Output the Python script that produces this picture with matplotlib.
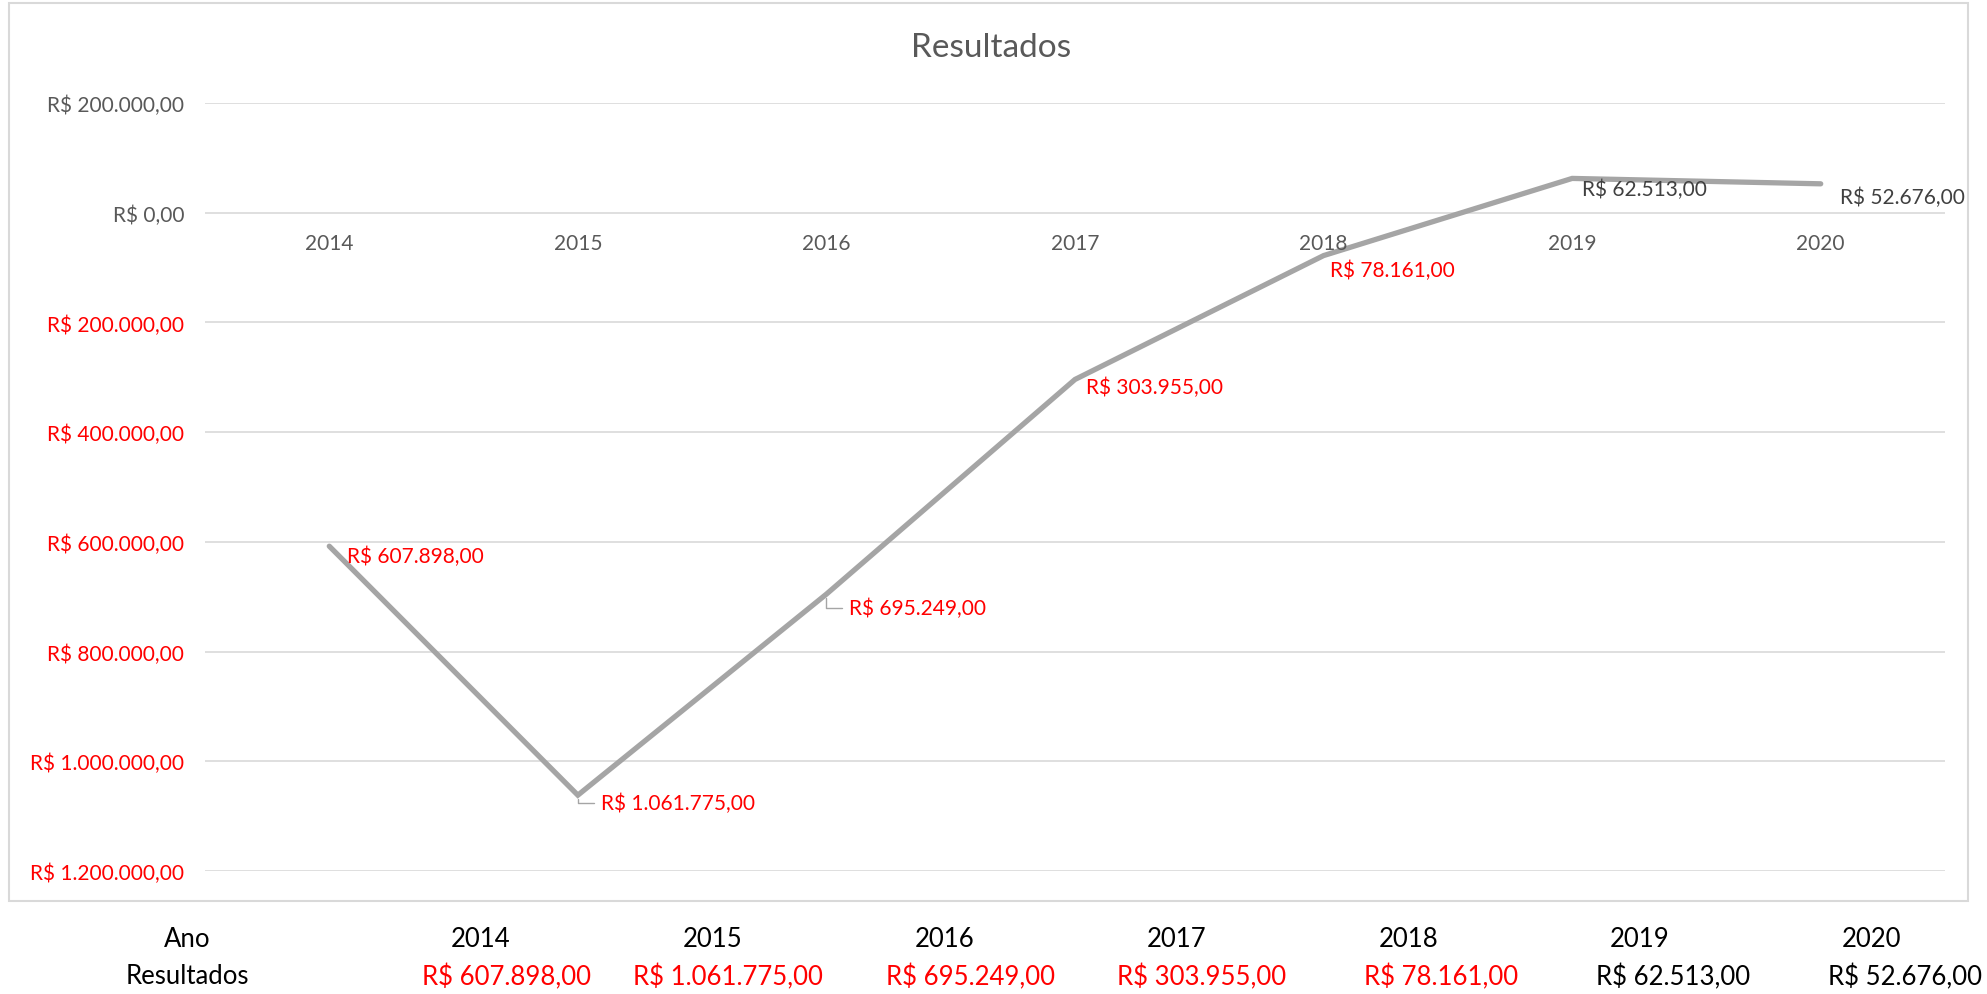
import matplotlib
matplotlib.use("Agg")
import matplotlib.pyplot as plt
from matplotlib.patches import Rectangle

plt.rcParams["font.family"] = ["Lato", "DejaVu Sans"]

# data (negative = loss, shown in red)
anos = ["2014", "2015", "2016", "2017", "2018", "2019", "2020"]
resultados = [-607898, -1061775, -695249, -303955, -78161, 62513, 52676]
y_ticks = [200000, 0, -200000, -400000, -600000, -800000, -1000000, -1200000]

# label offsets in points (dx, dy) relative to each point
label_off = [(12.8, -7.3), (16.4, -5.5), (16.4, -10.0), (8.2, -5.5),
             (4.6, -10.0), (7.3, -7.3), (13.7, -9.1)]
leader = [False, True, True, False, False, False, False]

RED = "#FF0000"
GRAY_TXT = "#595959"
LINE = "#A5A5A5"
GRID = "#D9D9D9"


def brl(v):
    s = f"{abs(v):,.2f}".replace(",", "X").replace(".", ",").replace("X", ".")
    return "R$ " + s


W, H = 1987, 995
fig = plt.figure(figsize=(W / 100, H / 100), dpi=100)

# chart border
fig.patches.append(Rectangle((9 / W, 1 - 902 / H), (1968 - 9) / W, (902 - 4) / H,
                             transform=fig.transFigure, fill=False,
                             edgecolor=GRID, lw=1.5))

ax = fig.add_axes([205 / W, 1 - 872 / H, (1945 - 205) / W, (872 - 104) / H])
x = list(range(len(anos)))
ax.plot(x, resultados, color=LINE, lw=3.8, solid_capstyle="round",
        solid_joinstyle="miter", zorder=3)
ax.set_xlim(-0.5, len(anos) - 0.5)
ax.set_ylim(-1200000, 200000)
ax.set_yticks(y_ticks)
ax.set_yticklabels([brl(v) for v in y_ticks], fontsize=15)
for lab, v in zip(ax.get_yticklabels(), y_ticks):
    lab.set_color(RED if v < 0 else GRAY_TXT)
ax.tick_params(axis="y", length=0, pad=15)
ax.set_xticks([])
ax.grid(axis="y", color=GRID, lw=1.2)
ax.set_axisbelow(True)
for sp in ax.spines.values():
    sp.set_visible(False)

# category labels just below the zero line
for i, a in enumerate(anos):
    ax.annotate(a, (i, 0), xytext=(0, -21.5), textcoords="offset points",
                ha="center", va="center", fontsize=15, color=GRAY_TXT)

# data labels
for i, v in enumerate(resultados):
    dx, dy = label_off[i]
    kw = {}
    if leader[i]:
        kw["arrowprops"] = dict(arrowstyle="-", color=LINE, lw=1.0,
                                connectionstyle="angle,angleA=180,angleB=90,rad=0",
                                shrinkA=3, shrinkB=3, relpos=(0, 0.5))
    ax.annotate(brl(v), (i, v), xytext=(dx, dy), textcoords="offset points",
                ha="left", va="center", fontsize=15,
                color=RED if v < 0 else "#404040", zorder=4, **kw)

fig.text(991 / W, 1 - 48 / H, "Resultados", ha="center", va="center",
         fontsize=24, color=GRAY_TXT)

# data table under the chart
fig.text(187 / W, 1 - 940 / H, "Ano", ha="center", va="center", fontsize=18.5, color="black")
fig.text(187 / W, 1 - 977 / H, "Resultados", ha="center", va="center", fontsize=18.5, color="black")
for i, (a, v) in enumerate(zip(anos, resultados)):
    cx = 481 + 231.8 * i
    fig.text(cx / W, 1 - 940 / H, a, ha="center", va="center", fontsize=18.5, color="black")
    fig.text((cx + 110) / W, 1 - 977 / H, brl(v), ha="right", va="center",
             fontsize=18.5, color=RED if v < 0 else "black")

fig.savefig("out.png", dpi=100, facecolor="white")
